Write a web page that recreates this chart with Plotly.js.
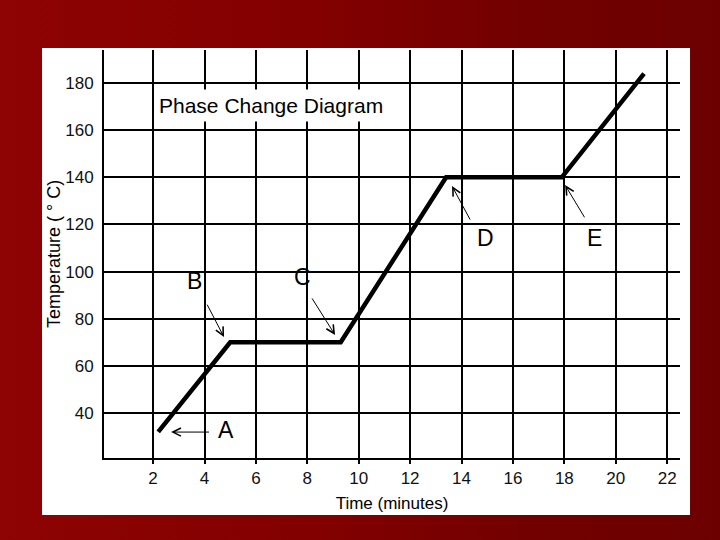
<!DOCTYPE html>
<html>
<head>
<meta charset="utf-8">
<script src="https://cdn.plot.ly/plotly-3.0.1.min.js"></script>
<style>
  html, body { margin: 0; padding: 0; }
  body { width: 720px; height: 540px; overflow: hidden;
    background: linear-gradient(90deg, #8e0303 0%, #820000 45%, #720000 75%, #6c0000 100%); }
  #chart { width: 720px; height: 540px; }
</style>
</head>
<body>
<div id="chart"></div>
<script>
// Data
const timeMinutes = [2.2, 5.0, 9.3, 13.4, 17.9, 21.1];
const temperatureC = [32, 70, 70, 140, 140, 184];

const xTickValues = [2, 4, 6, 8, 10, 12, 14, 16, 18, 20, 22];
const yTickValues = [40, 60, 80, 100, 120, 140, 160, 180];

// Point labels: letter, arrow head (x,y), arrow tail (x,y), text position (x,y)
const labelNames = ['A', 'B', 'C', 'D', 'E'];
const headX = [2.70, 4.76, 9.08, 13.63, 18.03];
const headY = [31.9, 72.2, 73.1, 136.3, 136.7];
const tailX = [4.33, 3.95, 8.03, 14.49, 18.94];
const tailY = [31.9, 89.2, 91.3, 118.9, 120.2];
const textX = [4.84, 3.63, 7.80, 14.92, 19.16];
const textY = [32.6, 96.0, 97.7, 114.2, 114.2];

const chartTitle = 'Phase Change Diagram';
const xTitle = 'Time (minutes)';
const yTitle = 'Temperature ( ° C)';

const trace = {
  x: timeMinutes,
  y: temperatureC,
  type: 'scatter',
  mode: 'lines',
  line: { color: '#000000', width: 4.5 },
  hoverinfo: 'skip'
};

const annotations = [];
labelNames.forEach((name, i) => {
  annotations.push({
    x: headX[i], y: headY[i], xref: 'x', yref: 'y',
    ax: tailX[i], ay: tailY[i], axref: 'x', ayref: 'y',
    text: ' ', showarrow: true, arrowhead: 5, arrowsize: 1.6,
    arrowwidth: 1, arrowcolor: '#000000'
  });
  annotations.push({
    x: textX[i], y: textY[i], xref: 'x', yref: 'y',
    text: name, showarrow: false,
    font: { family: 'Liberation Sans, Arial, sans-serif', size: 23, color: '#000000' }
  });
});
annotations.push({
  x: 0.087, y: 0.863, xref: 'paper', yref: 'paper',
  xanchor: 'left', yanchor: 'middle',
  text: chartTitle, showarrow: false, bgcolor: '#ffffff', borderpad: 4,
  font: { family: 'Liberation Sans Narrow, Liberation Sans, Arial, sans-serif', size: 21, color: '#000000' }
});

const layout = {
  width: 720, height: 540,
  margin: { l: 104, r: 40, t: 50, b: 82 },
  paper_bgcolor: 'rgba(0,0,0,0)',
  plot_bgcolor: '#ffffff',
  showlegend: false,
  font: { family: 'Liberation Sans, Arial, sans-serif', color: '#111111', size: 17 },
  xaxis: {
    range: [0.09, 22.5],
    tickvals: xTickValues,
    ticktext: xTickValues.map(String),
    showgrid: true, gridcolor: '#000000', gridwidth: 2,
    showline: true, linecolor: '#000000', linewidth: 2,
    ticks: 'outside', ticklen: 4, tickwidth: 2, tickcolor: '#000000',
    zeroline: false,
    tickfont: { size: 17, color: '#111111' },
    title: { text: xTitle, standoff: 10, font: { size: 17, color: '#000000' } }
  },
  yaxis: {
    range: [20.9, 194],
    tickvals: yTickValues,
    ticktext: yTickValues.map(String),
    showgrid: true, gridcolor: '#000000', gridwidth: 2,
    showline: true, linecolor: '#000000', linewidth: 2,
    ticks: '', ticklabelstandoff: 5,
    zeroline: false,
    tickfont: { size: 17, color: '#111111' },
    title: { text: yTitle, standoff: 0, font: { size: 18, color: '#000000' } }
  },
  shapes: [{
    type: 'rect', xref: 'paper', yref: 'paper', layer: 'below',
    x0: -0.1076, x1: 1.0174, y0: -0.1397, y1: 1.005,
    fillcolor: '#ffffff', line: { width: 0 }
  }],
  annotations: annotations
};

Plotly.newPlot('chart', [trace], layout, { displayModeBar: false, staticPlot: true });
</script>
</body>
</html>
